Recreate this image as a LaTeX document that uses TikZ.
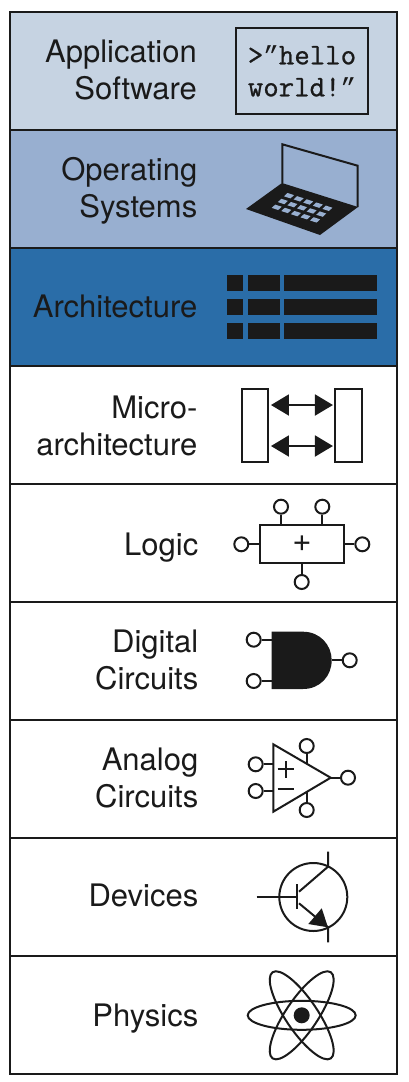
\documentclass[tikz,border=0pt]{standalone}
\usepackage{fontspec}
\setmainfont{TeX Gyre Heros}
\newfontfamily\hellofont[FakeBold=0.8]{Latin Modern Mono}
\newfontfamily\quotefont{Liberation Mono}
\usetikzlibrary{arrows.meta}
\definecolor{inkblack}{HTML}{1A1A1A}
\definecolor{appblue}{HTML}{C6D3E2}
\definecolor{osblue}{HTML}{98AFD0}
\definecolor{archblue}{HTML}{2A6DA8}
\begin{document}
\begin{tikzpicture}[x=1pt, y=-1pt,
    layer/.style={rectangle, draw=inkblack, line width=2pt, minimum width=387pt, minimum height=118pt, inner sep=0pt},
    title/.style={anchor=base east, align=right, text=inkblack, inner sep=0pt, font=\fontsize{31}{37}\selectfont},
    pin/.style={circle, draw=inkblack, fill=white, line width=2pt, minimum size=14pt, inner sep=0pt},
    wire/.style={draw=inkblack, line width=2pt},
    block/.style={rectangle, draw=inkblack, line width=2pt, inner sep=0pt},
    biarrow/.style={wire, {Triangle[length=18pt,width=21pt]}-{Triangle[length=18pt,width=21pt]}, shorten >=1.5pt, shorten <=1.5pt}
]
    \useasboundingbox (0,0) rectangle (408,1082);

    % Layers
    \node[layer, fill=appblue] (app) at (203.5,71) {};
    \node[layer, fill=osblue] (os) at (203.5,189) {};
    \node[layer, fill=archblue] (arch) at (203.5,307) {};
    \node[layer] (micro) at (203.5,425) {};
    \node[layer] (logic) at (203.5,543) {};
    \node[layer] (digital) at (203.5,661) {};
    \node[layer] (analog) at (203.5,779) {};
    \node[layer] (devices) at (203.5,897) {};
    \node[layer] (physics) at (203.5,1015) {};

    % Titles
    \node[title] (tapp) at (197,99.3) {Application\\Software};
    \node[title] (tos) at (197.5,217.5) {Operating\\Systems};
    \node[title] (tarch) at (197.5,317) {Architecture};
    \node[title] (tmicro) at (197.5,455) {Micro-\\architecture};
    \node[title] (tlogic) at (198.5,555) {Logic};
    \node[title] (tdigital) at (198.5,689) {Digital\\Circuits};
    \node[title] (tanalog) at (198.5,807) {Analog\\Circuits};
    \node[title] (tdevices) at (198.5,906.5) {Devices};
    \node[title] (tphysics) at (198.5,1026) {Physics};

    % Hello world
    \node[block, minimum width=132.5pt, minimum height=86.5pt, align=left, text=inkblack, font=\fontsize{30}{32}\hellofont\selectfont] (hello) at (302,71) {>{\quotefont\fontsize{26}{32}\selectfont ”}hello\\world!{\quotefont\fontsize{26}{32}\selectfont ”}};

    % Laptop
    \draw[wire] (282.3,183) -- (282.3,144.3) -- (357.7,165.7) -- (357.7,207);
    \fill[inkblack] (282,183) -- (358,207) -- (320,235) -- (246,209) -- cycle;
    \foreach \col in {0,...,4} {
        \foreach \row in {0,1,2} {
            \fill[osblue, shift={({289+9.6*\col-6.15*\row},{195.7+3.15*\col+5.8*\row})}]
                (-1.5,-2.7) -- (5,-0.6) -- (1.5,2.7) -- (-5,0.6) -- cycle;
        }
    }

    % Register table
    \foreach \y in {274.5,298.5,322.5} {
        \fill[inkblack] (227,\y) rectangle +(16.3,16);
        \fill[inkblack] (248,\y) rectangle +(31.7,16);
        \fill[inkblack] (284.3,\y) rectangle +(92.4,16);
    }

    % Microarchitecture
    \node[block, minimum width=26.5pt, minimum height=73.5pt] (mleft) at (255.2,425.7) {};
    \node[block, minimum width=26.5pt, minimum height=73.5pt] (mright) at (348.7,425.7) {};
    \coordinate (mtop) at (0,405);
    \coordinate (mbot) at (0,446);
    \draw[biarrow] (mleft.east |- mtop) -- (mright.west |- mtop);
    \draw[biarrow] (mleft.east |- mbot) -- (mright.west |- mbot);

    % Adder
    \node[block, minimum width=84.5pt, minimum height=38pt, text=inkblack, font=\fontsize{33}{33}\selectfont] (adder) at (302.1,544) {+};
    \node[pin] (pa) at (281,506.7) {};
    \node[pin] (pb) at (322.3,506.7) {};
    \node[pin] (pc) at (241.3,544.3) {};
    \node[pin] (pd) at (362.3,544.3) {};
    \node[pin] (pe) at (301.7,582) {};
    \draw[wire] (pa) -- (pa |- adder.north);
    \draw[wire] (pb) -- (pb |- adder.north);
    \draw[wire] (pc) -- (pc -| adder.west);
    \draw[wire] (pd) -- (pd -| adder.east);
    \draw[wire] (pe) -- (pe |- adder.south);

    % AND gate
    \fill[inkblack] (271.7,631.7) -- (303,631.7) .. controls (320,631.7) and (331.7,645) .. (331.7,660.3)
        .. controls (331.7,676) and (320,689) .. (303,689) -- (271.7,689) -- cycle;
    \coordinate (gatein) at (271.7,660);
    \coordinate (gateout) at (331.7,660.3);
    \node[pin] (ga) at (253.7,639.7) {};
    \node[pin] (gb) at (253.7,681) {};
    \node[pin] (gc) at (349.7,660.3) {};
    \draw[wire] (ga) -- (ga -| gatein);
    \draw[wire] (gb) -- (gb -| gatein);
    \draw[wire] (gc) -- (gateout);

    % Op amp
    \coordinate (ampa) at (273.3,744.3);
    \coordinate (ampb) at (273.3,811.7);
    \coordinate (ampc) at (330.7,777.7);
    \node[pin] (oa) at (255.7,764.3) {};
    \node[pin] (ob) at (255.7,791) {};
    \node[pin] (oc) at (348,777.7) {};
    \node[pin] (od) at (306.7,746) {};
    \node[pin] (oe) at (306.7,810) {};
    \coordinate (ampup) at (306.7,763.7);
    \coordinate (ampdn) at (306.7,791.7);
    \draw[wire, line join=miter] (ampa) -- (ampb) -- (ampc) -- cycle;
    \draw[wire] (oa) -- (oa -| ampa);
    \draw[wire] (ob) -- (ob -| ampa);
    \draw[wire] (oc) -- (ampc);
    \draw[wire] (od) -- (ampup);
    \draw[wire] (oe) -- (ampdn);
    \draw[wire] (277.5,769.3) -- (294,769.3);
    \draw[wire] (286,761.3) -- (286,777.7);
    \draw[wire] (277.5,789.3) -- (294,789.3);

    % Transistor
    \coordinate (tc) at (313.3,897);
    \draw[wire] (tc) circle [radius=34pt];
    \draw[wire] (256.7,897) -- (297.3,897);
    \draw[wire] (297.3,884) -- (297.3,909.3);
    \draw[wire] (299,891.7) -- (328,866.7) -- (328,851.7);
    \draw[wire] (299,903.3) -- (328,927.3) -- (328,942.3);
    \fill[inkblack] (328,927.3) -- (321.7,908.3) -- (308.3,924) -- cycle;

    % Atom
    \coordinate (nucleus) at (301.7,1015.3);
    \fill[inkblack] (nucleus) circle [radius=8pt];
    \draw[wire] (nucleus) ellipse [x radius=54pt, y radius=14.5pt];
    \foreach \ang in {56,124} {
        \draw[wire] (nucleus) ellipse [x radius=52pt, y radius=16pt, rotate=\ang];
    }
\end{tikzpicture}
\end{document}
